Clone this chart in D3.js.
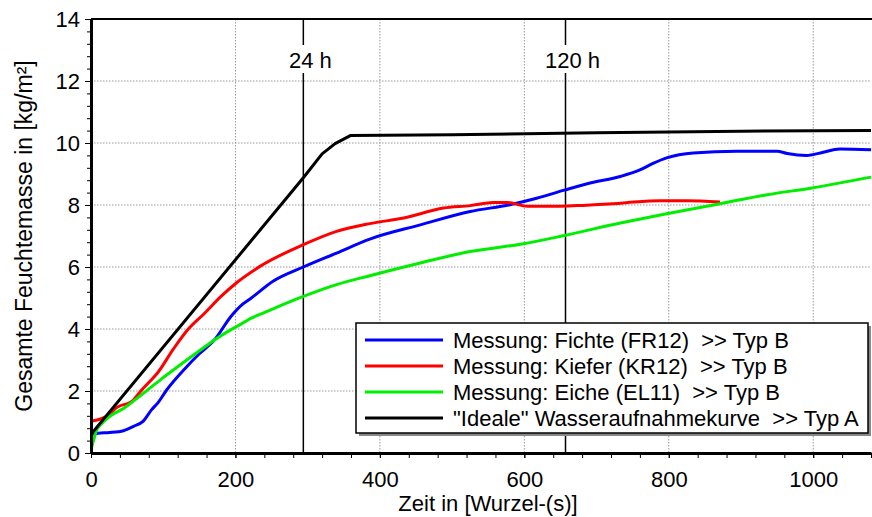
<!DOCTYPE html>
<html>
<head>
<meta charset="utf-8">
<script src="https://cdn.jsdelivr.net/npm/d3@7"></script>
<style>
  body { margin: 0; background: #fff; }
  svg { display: block; font-family: "Liberation Sans", Arial, sans-serif; }
</style>
</head>
<body>
<div id="chart"></div>
<script>
// values: [x in sqrt(s), moisture in kg/m²]
var fichte = [[0,0.6],[10,0.64],[26,0.66],[45,0.72],[59,0.86],[72,1.02],[84,1.4],[92,1.6],[105,2.04],[130,2.72],[150,3.2],[171,3.65],[194,4.41],[210,4.8],[222,5.0],[252,5.54],[294,6.0],[340,6.45],[386,6.9],[456,7.36],[525,7.79],[580,8.01],[617,8.22],[654,8.47],[691,8.71],[733,8.92],[760,9.13],[779,9.35],[797,9.52],[834,9.68],[894,9.73],[950,9.73],[964,9.66],[991,9.6],[1010,9.68],[1037,9.81],[1080,9.78]];
var kiefer = [[0,1.02],[26,1.24],[32,1.4],[59,1.72],[69,2.0],[82,2.32],[92,2.58],[114,3.35],[133,3.95],[157,4.5],[180,5.05],[202,5.5],[234,6.02],[294,6.72],[340,7.15],[386,7.4],[433,7.58],[488,7.9],[525,7.98],[557,8.08],[576,8.08],[604,7.96],[645,7.96],[673,7.98],[733,8.06],[788,8.14],[825,8.14],[871,8.1]];
var eiche = [[0,0.1],[4,0.45],[8,0.75],[15,0.95],[26,1.18],[46,1.45],[59,1.68],[96,2.36],[152,3.33],[165,3.55],[194,3.98],[202,4.08],[222,4.35],[239,4.52],[294,5.05],[340,5.43],[386,5.72],[456,6.13],[525,6.5],[599,6.75],[654,7.01],[733,7.42],[797,7.72],[871,8.04],[936,8.33],[998,8.55],[1080,8.9]];
var ideal = [[0,0.6],[294,8.88],[320,9.65],[338,9.98],[359,10.24],[500,10.27],[700,10.33],[900,10.38],[1080,10.4]];

var seriesNames = ['Messung: Fichte (FR12)  >> Typ B', 'Messung: Kiefer (KR12)  >> Typ B', 'Messung: Eiche (EL11)  >> Typ B', '"Ideale" Wasseraufnahmekurve  >> Typ A'];
var seriesColors = ['#0000ff', '#ff0000', '#00ee00', '#000000'];

var markerX = [294, 657];
var markerLabels = ['24 h', '120 h'];

var xTicks = [0, 200, 400, 600, 800, 1000];
var yTicks = [0, 2, 4, 6, 8, 10, 12, 14];

var width = 872, height = 517;
var pLeft = 91, pRight = 871, pTop = 19, pBottom = 453;

var svg = d3.select('#chart').append('svg')
    .attr('width', width)
    .attr('height', height);

var x = d3.scaleLinear().domain([0, 1080]).range([pLeft, pRight]);
var y = d3.scaleLinear().domain([0, 14]).range([pBottom, pTop]);

// dotted grid
svg.append('g')
    .selectAll('line')
    .data(xTicks.filter(d => d > 0))
    .join('line')
    .attr('x1', d => x(d)).attr('x2', d => x(d))
    .attr('y1', pTop).attr('y2', pBottom)
    .attr('stroke', '#999').attr('stroke-width', 1).attr('stroke-dasharray', '1.5,1.5');
svg.append('g')
    .selectAll('line')
    .data(yTicks.filter(d => d > 0 && d < 14))
    .join('line')
    .attr('x1', pLeft).attr('x2', pRight)
    .attr('y1', d => y(d)).attr('y2', d => y(d))
    .attr('stroke', '#999').attr('stroke-width', 1).attr('stroke-dasharray', '1.5,1.5');

// top border
svg.append('line')
    .attr('x1', pLeft).attr('x2', width)
    .attr('y1', pTop).attr('y2', pTop)
    .attr('stroke', '#000').attr('stroke-width', 2);

// marker lines 24 h / 120 h
var markers = svg.append('g');
markers.selectAll('line')
    .data(markerX)
    .join('line')
    .attr('x1', d => x(d)).attr('x2', d => x(d))
    .attr('y1', pTop).attr('y2', pBottom)
    .attr('stroke', '#000').attr('stroke-width', 1.5);
markers.selectAll('rect')
    .data(markerX)
    .join('rect')
    .attr('x', (d, i) => x(d) + 7 - (i ? 30 : 24))
    .attr('y', 45)
    .attr('width', (d, i) => i ? 60 : 48)
    .attr('height', 28)
    .attr('fill', '#fff');
markers.selectAll('text')
    .data(markerX)
    .join('text')
    .attr('x', d => x(d) + 7)
    .attr('y', 68)
    .attr('text-anchor', 'middle')
    .attr('font-size', '22px')
    .text((d, i) => markerLabels[i]);

// curves
svg.append('clipPath').attr('id', 'plot')
    .append('rect').attr('x', pLeft).attr('y', pTop).attr('width', pRight - pLeft + 1).attr('height', pBottom - pTop);

var smooth = d3.line().x(d => x(d[0])).y(d => y(d[1])).curve(d3.curveMonotoneX);
var straight = d3.line().x(d => x(d[0])).y(d => y(d[1]));

var curves = svg.append('g').attr('clip-path', 'url(#plot)');
[fichte, kiefer, eiche].forEach((s, i) => {
    curves.append('path')
        .attr('d', smooth(s))
        .attr('fill', 'none')
        .attr('stroke', seriesColors[i])
        .attr('stroke-width', 3);
});
curves.append('path')
    .attr('d', straight(ideal))
    .attr('fill', 'none')
    .attr('stroke', seriesColors[3])
    .attr('stroke-width', 3)
    .attr('stroke-linejoin', 'round');

// axes
var yAxis = svg.append('g')
    .attr('transform', `translate(${pLeft},0)`)
    .call(d3.axisLeft(y).tickValues(yTicks).tickSize(6).tickSizeOuter(0).tickPadding(5));
svg.append('g')
    .attr('transform', `translate(${pLeft},0)`)
    .call(d3.axisLeft(y).tickValues(d3.range(0, 14.01, 0.4)).tickSize(4).tickSizeOuter(0).tickFormat(''))
    .call(g => g.select('.domain').remove());
yAxis.select('.domain').attr('stroke-width', 3);
yAxis.selectAll('text').attr('font-size', '22px').attr('fill', '#000');

var xAxis = svg.append('g')
    .attr('transform', `translate(0,${pBottom})`)
    .call(d3.axisBottom(x).tickValues(d3.range(0, 1081, 40)).tickSize(5).tickSizeOuter(0).tickFormat(''));
xAxis.select('.domain').attr('stroke-width', 3);
svg.append('g')
    .attr('transform', `translate(0,${pBottom})`)
    .call(d3.axisBottom(x).tickValues(xTicks).tickSize(5).tickPadding(13).tickFormat(d3.format('d')))
    .call(g => g.select('.domain').remove())
    .selectAll('text').attr('font-size', '22px').attr('fill', '#000');

svg.append('text')
    .attr('x', 488).attr('y', 511)
    .attr('text-anchor', 'middle')
    .attr('font-size', '22px')
    .text('Zeit in [Wurzel-(s)]');
svg.append('text')
    .attr('transform', 'translate(32,236) rotate(-90)')
    .attr('text-anchor', 'middle')
    .attr('font-size', '23px')
    .text('Gesamte Feuchtemasse in [kg/m²]');

// legend
var legend = svg.append('g');
legend.append('rect')
    .attr('x', 359).attr('y', 326).attr('width', 512).attr('height', 110)
    .attr('fill', '#888');
legend.append('rect')
    .attr('x', 356).attr('y', 323).attr('width', 512).attr('height', 110)
    .attr('fill', '#fff').attr('stroke', '#000').attr('stroke-width', 1.5);
var rows = legend.selectAll('g.row')
    .data(seriesNames)
    .join('g')
    .attr('class', 'row')
    .attr('transform', (d, i) => `translate(0,${340 + i * 26})`);
rows.append('line')
    .attr('x1', 365).attr('x2', 443)
    .attr('stroke', (d, i) => seriesColors[i])
    .attr('stroke-width', 3);
rows.append('text')
    .attr('x', 453).attr('y', 8)
    .attr('font-size', '22px')
    .style('white-space', 'pre')
    .text(d => d);
</script>
</body>
</html>
